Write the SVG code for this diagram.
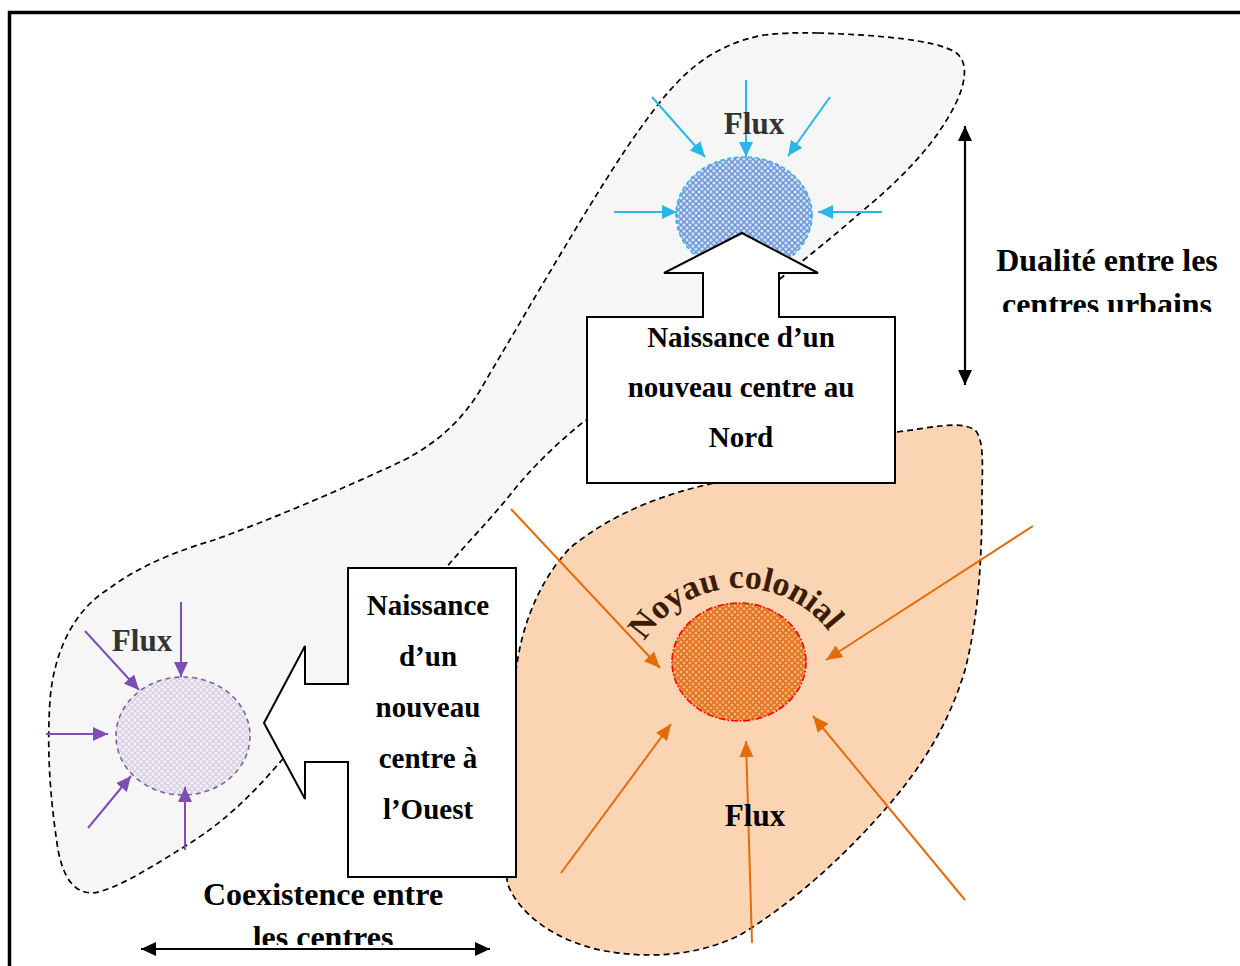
<svg xmlns="http://www.w3.org/2000/svg" width="1240" height="966" viewBox="0 0 1240 966">
  <defs>
    <style>
      .lbl { font-family: "Liberation Serif", "Times New Roman", serif; font-weight: bold; text-anchor: middle; }
      .box { font-size: 29px; fill: #000; }
      .note { font-size: 32px; fill: #000; }
      .flux { font-size: 31px; }
      .zone { stroke: #000; stroke-width: 1.7; stroke-dasharray: 6 4; }
      .callout { fill: #fff; stroke: #000; stroke-width: 2; stroke-linejoin: miter; }
      .fb { stroke: #2cb5e8; stroke-width: 2; fill: none; marker-end: url(#hBlue); }
      .fo { stroke: #e36c09; stroke-width: 2; fill: none; marker-end: url(#hOrange); }
      .fp { stroke: #7f4db6; stroke-width: 2; fill: none; marker-end: url(#hPurple); }
      .dbl { stroke: #000; stroke-width: 2.2; fill: none; marker-start: url(#hBlack); marker-end: url(#hBlack); }
    </style>
    <pattern id="patBlue" width="6" height="6" patternUnits="userSpaceOnUse">
      <rect width="6" height="6" fill="#d3e1f7"/>
      <path d="M0 0 L6 6 M6 0 L0 6" stroke="#6c95d8" stroke-width="1.4"/>
    </pattern>
    <pattern id="patOrange" width="6" height="6" patternUnits="userSpaceOnUse">
      <rect width="6" height="6" fill="#f3b781"/>
      <path d="M0 0 L6 6 M6 0 L0 6" stroke="#e3731c" stroke-width="1.8"/>
    </pattern>
    <pattern id="patPurple" width="6" height="6" patternUnits="userSpaceOnUse">
      <rect width="6" height="6" fill="#f3f0f6"/>
      <path d="M0 0 L6 6 M6 0 L0 6" stroke="#d9cfe5" stroke-width="1.3"/>
    </pattern>
    <marker id="hBlue" markerUnits="userSpaceOnUse" markerWidth="16" markerHeight="14" refX="15" refY="7" orient="auto">
      <path d="M0,0 L15,7 L0,14 z" fill="#2cb5e8"/>
    </marker>
    <marker id="hOrange" markerUnits="userSpaceOnUse" markerWidth="17" markerHeight="14" refX="16" refY="7" orient="auto">
      <path d="M0,0 L16,7 L0,14 z" fill="#e36c09"/>
    </marker>
    <marker id="hPurple" markerUnits="userSpaceOnUse" markerWidth="16" markerHeight="14" refX="15" refY="7" orient="auto">
      <path d="M0,0 L15,7 L0,14 z" fill="#7f4db6"/>
    </marker>
    <marker id="hBlack" markerUnits="userSpaceOnUse" markerWidth="16" markerHeight="14" refX="15" refY="7" orient="auto-start-reverse">
      <path d="M0,0 L15,7 L0,14 z" fill="#000"/>
    </marker>
    <clipPath id="clipDual"><rect x="980" y="240" width="260" height="72"/></clipPath>
    <clipPath id="clipCoex"><rect x="180" y="875" width="300" height="70"/></clipPath>
    <!-- baseline arc for the curved label, centre (740,700), r 112 -->
    <path id="arcNoyau" d="M 633.5,665.4 A 112,112 0 0 1 842.3,654.4"/>
  </defs>

  <!-- page frame -->
  <g id="frame" stroke="#000" stroke-width="3.5" fill="none">
    <line x1="8" y1="12.5" x2="1240" y2="12.5"/>
    <line x1="9.5" y1="11" x2="9.5" y2="966"/>
  </g>

  <!-- urban zones -->
  <g id="zone-extension">
    <path class="zone" fill="#f6f6f6" d="M 818,33 C 880,35 935,40 955,52 C 970,62 965,85 955,105 C 935,145 900,180 860,213 C 835,235 810,255 790,271 C 740,310 650,380 582,423 C 555,445 530,470 514,490 C 490,520 470,540 450,563 C 400,630 320,720 282,760 C 260,785 230,820 179,850 C 150,868 115,890 93,893 C 75,893 64,880 58,850 C 52,810 46,760 50,700 C 54,650 75,610 107,590 C 140,565 180,550 214,540 C 270,520 340,490 400,462 C 445,440 470,410 486,380 C 510,340 530,305 560,255 C 590,205 620,155 650,115 C 680,75 710,45 764,35 C 790,32 805,33 818,33 Z"/>
  </g>
  <g id="zone-coloniale">
    <path class="zone" fill="#fbd4b4" d="M 897,432 C 930,428 960,420 975,430 C 985,440 982,470 982,500 C 982,560 978,620 965,670 C 950,720 925,765 880,815 C 840,860 790,905 740,935 C 700,955 650,960 600,950 C 555,940 520,915 508,885 C 502,860 512,780 514,700 C 515,640 535,585 570,548 C 610,515 660,495 710,484 C 780,465 850,440 897,432 Z"/>
  </g>

  <!-- centres -->
  <g id="centre-nord">
    <ellipse cx="744" cy="215" rx="68" ry="58" fill="url(#patBlue)" stroke="#2cb5e8" stroke-width="1.6" stroke-dasharray="4 3"/>
  </g>
  <g id="centre-colonial">
    <ellipse cx="739" cy="662" rx="67" ry="59" fill="url(#patOrange)" stroke="#ff0000" stroke-width="1.6" stroke-dasharray="7 2 1.5 2"/>
    <text class="lbl" font-size="34" fill="#3d1c04"><textPath href="#arcNoyau" startOffset="50%">Noyau colonial</textPath></text>
  </g>
  <g id="centre-ouest">
    <ellipse cx="183" cy="736" rx="67" ry="59" fill="url(#patPurple)" stroke="#7a6590" stroke-width="1.6" stroke-dasharray="5 4"/>
  </g>

  <!-- flows and connectors -->
  <g id="connectors">
    <line class="fb" x1="652" y1="97" x2="705" y2="157"/>
    <line class="fb" x1="746" y1="80" x2="746" y2="157"/>
    <line class="fb" x1="830" y1="97" x2="788" y2="156"/>
    <line class="fb" x1="614" y1="212" x2="677" y2="212"/>
    <line class="fb" x1="882" y1="212" x2="818" y2="212"/>

    <line class="fo" x1="511" y1="509" x2="660" y2="668"/>
    <line class="fo" x1="1033" y1="526" x2="826" y2="660"/>
    <line class="fo" x1="561" y1="873" x2="671" y2="724"/>
    <line class="fo" x1="752" y1="943" x2="746" y2="741"/>
    <line class="fo" x1="965" y1="900" x2="813" y2="716"/>

    <line class="fp" x1="85" y1="631" x2="139" y2="690"/>
    <line class="fp" x1="181" y1="602" x2="181" y2="677"/>
    <line class="fp" x1="46" y1="734" x2="108" y2="734"/>
    <line class="fp" x1="88" y1="828" x2="131" y2="776"/>
    <line class="fp" x1="185" y1="850" x2="185" y2="787"/>

    <line class="dbl" x1="965" y1="126" x2="965" y2="385"/>
    <line class="dbl" x1="141" y1="949" x2="490" y2="949"/>
  </g>

  <!-- callout boxes -->
  <g id="naissance-nord">
    <path class="callout" d="M587,317 L703,317 L703,273 L664,273 L742,233 L818,273 L779,273 L779,317 L895,317 L895,483 L587,483 Z"/>
    <text class="lbl box" x="741" y="347">Naissance d’un</text>
    <text class="lbl box" x="741" y="397">nouveau centre au</text>
    <text class="lbl box" x="741" y="447">Nord</text>
  </g>
  <g id="naissance-ouest">
    <path class="callout" d="M348,568 L516,568 L516,877 L348,877 L348,762 L305,762 L305,799 L264,723 L305,646 L305,684 L348,684 Z"/>
    <text class="lbl box" x="428" y="615">Naissance</text>
    <text class="lbl box" x="428" y="666">d’un</text>
    <text class="lbl box" x="428" y="717">nouveau</text>
    <text class="lbl box" x="428" y="768">centre à</text>
    <text class="lbl box" x="428" y="819">l’Ouest</text>
  </g>

  <!-- labels -->
  <g id="flux-labels">
    <text class="lbl flux" x="754" y="134" fill="#333">Flux</text>
    <text class="lbl flux" x="142" y="651" fill="#333">Flux</text>
    <text class="lbl flux" x="755" y="826" fill="#000">Flux</text>
  </g>
  <g id="dualite">
    <text class="lbl note" x="1107" y="271">Dualité entre les</text>
    <text class="lbl note" x="1107" y="315" clip-path="url(#clipDual)">centres urbains</text>
  </g>
  <g id="coexistence">
    <text class="lbl note" x="323" y="905">Coexistence entre</text>
    <text class="lbl note" x="323" y="948" clip-path="url(#clipCoex)">les centres</text>
  </g>
</svg>
